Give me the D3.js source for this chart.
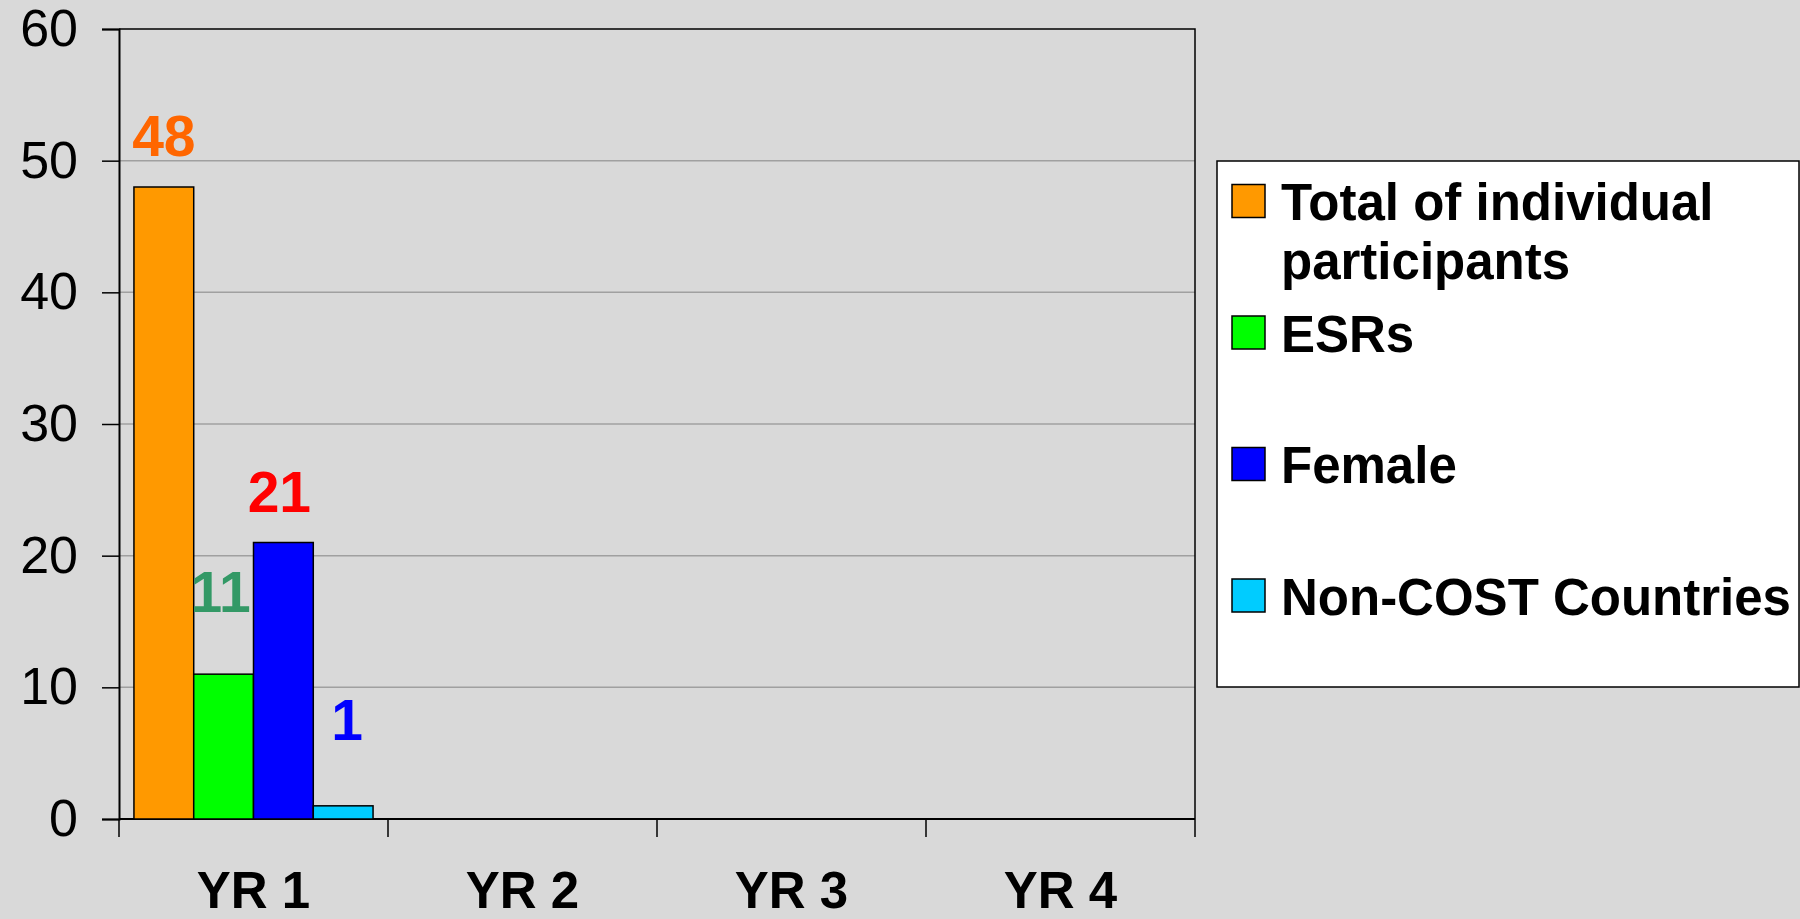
<!DOCTYPE html>
<html>
<head>
<meta charset="utf-8">
<title>Participants per year</title>
<script src="https://d3js.org/d3.v7.min.js"></script>
<style>
    body { margin: 0; background: #d9d9d9; }
    svg { display: block; font-family: "Liberation Sans", Arial, sans-serif; }
    .grid line { stroke: #a0a0a0; stroke-width: 1.5; }
    .bar { stroke: #000; stroke-width: 1.5; }
</style>
</head>
<body>
<svg width="1800" height="919"></svg>
<script>
// chart data
let years = ['YR 1', 'YR 2', 'YR 3', 'YR 4'];
let series = ['Total of individual participants', 'ESRs', 'Female', 'Non-COST Countries'];
let values = [
    [48, 11, 21, 1],      // YR 1
    [null, null, null, null],
    [null, null, null, null],
    [null, null, null, null]
];
let yTicks = [0, 10, 20, 30, 40, 50, 60];

let barColors = ['#ff9900', '#00ff00', '#0000ff', '#00ccff'];
let labelColors = ['#ff6600', '#339966', '#ff0000', '#0000ff'];
// label nudges (dx, dy) from bar top, as in the original slide
let labelNudge = [[0, -31], [-3, -62], [-4, -31], [4, -66]];

let svg = d3.select('svg');
let margin = {top: 29, left: 119, right: 605, bottom: 100};
let width = 1800 - margin.left - margin.right;
let height = 919 - margin.top - margin.bottom;

let g = svg.append('g')
    .attr('transform', `translate(${margin.left},${margin.top})`);

let x0 = d3.scaleBand().domain(years).range([0, width]);
let x1 = d3.scaleBand().domain(series).range([0, x0.bandwidth()]).paddingOuter(0.25);
let y = d3.scaleLinear().domain([0, 60]).range([height, 0]);

// gridlines
g.append('g').attr('class', 'grid')
    .selectAll('line')
    .data(yTicks.filter(t => t > 0 && t < 60))
    .join('line')
    .attr('x1', 0).attr('x2', width)
    .attr('y1', d => y(d)).attr('y2', d => y(d));

// frame top / right
g.append('path')
    .attr('d', `M0,${y(60)}H${width}V${y(0)}`)
    .attr('fill', 'none').attr('stroke', '#000').attr('stroke-width', 1.5);

// y axis
let yAxis = g.append('g')
    .call(d3.axisLeft(y).tickValues(yTicks).tickSize(17).tickPadding(24));
yAxis.select('.domain').attr('stroke', '#000').attr('stroke-width', 2);
yAxis.selectAll('.tick line').attr('stroke', '#000').attr('stroke-width', 1.5);
yAxis.selectAll('.tick text')
    .attr('font-size', 52).attr('fill', '#000')
    .attr('font-family', '"Liberation Sans", Arial, sans-serif');

// x axis: ticks at band edges
let xAxis = g.append('g').attr('transform', `translate(0,${height})`);
xAxis.append('line').attr('x1', 0).attr('x2', width)
    .attr('stroke', '#000').attr('stroke-width', 2);
xAxis.selectAll('.xt')
    .data(years.concat(['end']))
    .join('line')
    .attr('class', 'xt')
    .attr('x1', (d, i) => i * x0.step()).attr('x2', (d, i) => i * x0.step())
    .attr('y1', 0).attr('y2', 18)
    .attr('stroke', '#000').attr('stroke-width', 1.5);
xAxis.selectAll('.xl')
    .data(years)
    .join('text')
    .attr('class', 'xl')
    .attr('x', d => x0(d) + x0.bandwidth() / 2)
    .attr('y', 89)
    .attr('text-anchor', 'middle')
    .attr('font-size', 51).attr('font-weight', 'bold')
    .text(d => d);

// bars
let groups = g.selectAll('.year')
    .data(years)
    .join('g')
    .attr('class', 'year')
    .attr('transform', d => `translate(${x0(d)},0)`);

let cells = groups.selectAll('.cell')
    .data((d, i) => values[i].map((v, j) => ({s: series[j], v: v, j: j})).filter(c => c.v != null))
    .join('g').attr('class', 'cell');

cells.append('rect')
    .attr('class', 'bar')
    .attr('x', d => x1(d.s))
    .attr('width', x1.bandwidth())
    .attr('y', d => y(d.v))
    .attr('height', d => y(0) - y(d.v))
    .attr('fill', d => barColors[d.j]);

cells.append('text')
    .attr('x', d => x1(d.s) + x1.bandwidth() / 2 + labelNudge[d.j][0])
    .attr('y', d => y(d.v) + labelNudge[d.j][1])
    .attr('text-anchor', 'middle')
    .attr('font-size', 57).attr('font-weight', 'bold')
    .attr('fill', d => labelColors[d.j])
    .text(d => d.v);

// legend
let legend = svg.append('g').attr('transform', 'translate(1217,161)');
legend.append('rect')
    .attr('width', 582).attr('height', 526)
    .attr('fill', '#fff').attr('stroke', '#000').attr('stroke-width', 1.5);

let items = legend.selectAll('.item')
    .data(series)
    .join('g')
    .attr('class', 'item')
    .attr('transform', (d, i) => `translate(15,${40 + i * 131.5})`);

items.append('rect')
    .attr('y', -16.5).attr('width', 33).attr('height', 33)
    .attr('fill', (d, i) => barColors[i])
    .attr('stroke', '#000').attr('stroke-width', 1.5);

let lines = [['Total of individual', 'participants'], ['ESRs'], ['Female'], ['Non-COST Countries']];
items.append('text')
    .attr('x', 49).attr('y', 19)
    .attr('font-size', 51).attr('font-weight', 'bold')
    .selectAll('tspan')
    .data((d, i) => lines[i])
    .join('tspan')
    .attr('x', 49)
    .attr('dy', (d, i) => i === 0 ? 0 : 59)
    .text(d => d);
</script>
</body>
</html>
